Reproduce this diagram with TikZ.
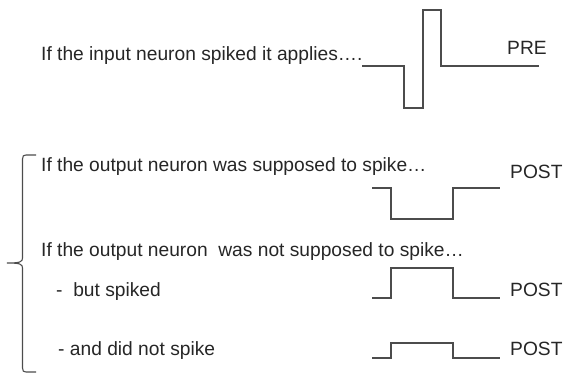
\documentclass[tikz,border=0pt]{standalone}
\usepackage{fontspec}
\setmainfont{Liberation Sans}
\begin{document}
\begin{tikzpicture}[x=1pt,y=-1pt,
  lbl/.style={anchor=base west,inner sep=0pt,font=\fontsize{19.2}{23}\selectfont,text=black!85},
  wave/.style={draw=black!70,line width=1.1pt},
  brace/.style={draw=black!70,line width=1.1pt}]
\useasboundingbox (0,0) rectangle (566,375);
% texts
\node[lbl] (t1) at (41,60) {If the input neuron spiked it applies\dots.};
\node[lbl] (pre) at (507,54) {PRE};
\node[lbl] (t2) at (41,171) {If the output neuron was supposed to spike\dots};
\node[lbl] (post1) at (510,178) {POST};
\node[lbl] (t3) at (41,256) {If the output neuron\ \ was not supposed to spike\dots};
\node[lbl] (t4) at (56,296) {-\ \ but spiked};
\node[lbl] (post2) at (510,296) {POST};
\node[lbl] (t5) at (58,355) {- and did not spike};
\node[lbl] (post3) at (510,355) {POST};
% waveforms
\draw[wave] (362,66) -- (404,66) -- (404,108) -- (423,108) -- (423,10) -- (441,10) -- (441,66) -- (539,66);
\draw[wave] (372,188) -- (391,188) -- (391,219) -- (453,219) -- (453,188) -- (500,188);
\draw[wave] (372,298) -- (391,298) -- (391,268) -- (453,268) -- (453,298) -- (500,298);
\draw[wave] (372,358) -- (391,358) -- (391,343) -- (453,343) -- (453,358) -- (500,358);
% brace
\draw[brace] (36,155) -- (26,155) .. controls (23.5,155) and (22.5,156) .. (22.5,159) -- (22.5,258) .. controls (22.5,262) and (20,263) .. (7,263)
  (7,263) .. controls (20,263) and (22.5,264) .. (22.5,268) -- (22.5,368) .. controls (22.5,371) and (23.5,372) .. (26,372) -- (36,372);
\end{tikzpicture}
\end{document}
